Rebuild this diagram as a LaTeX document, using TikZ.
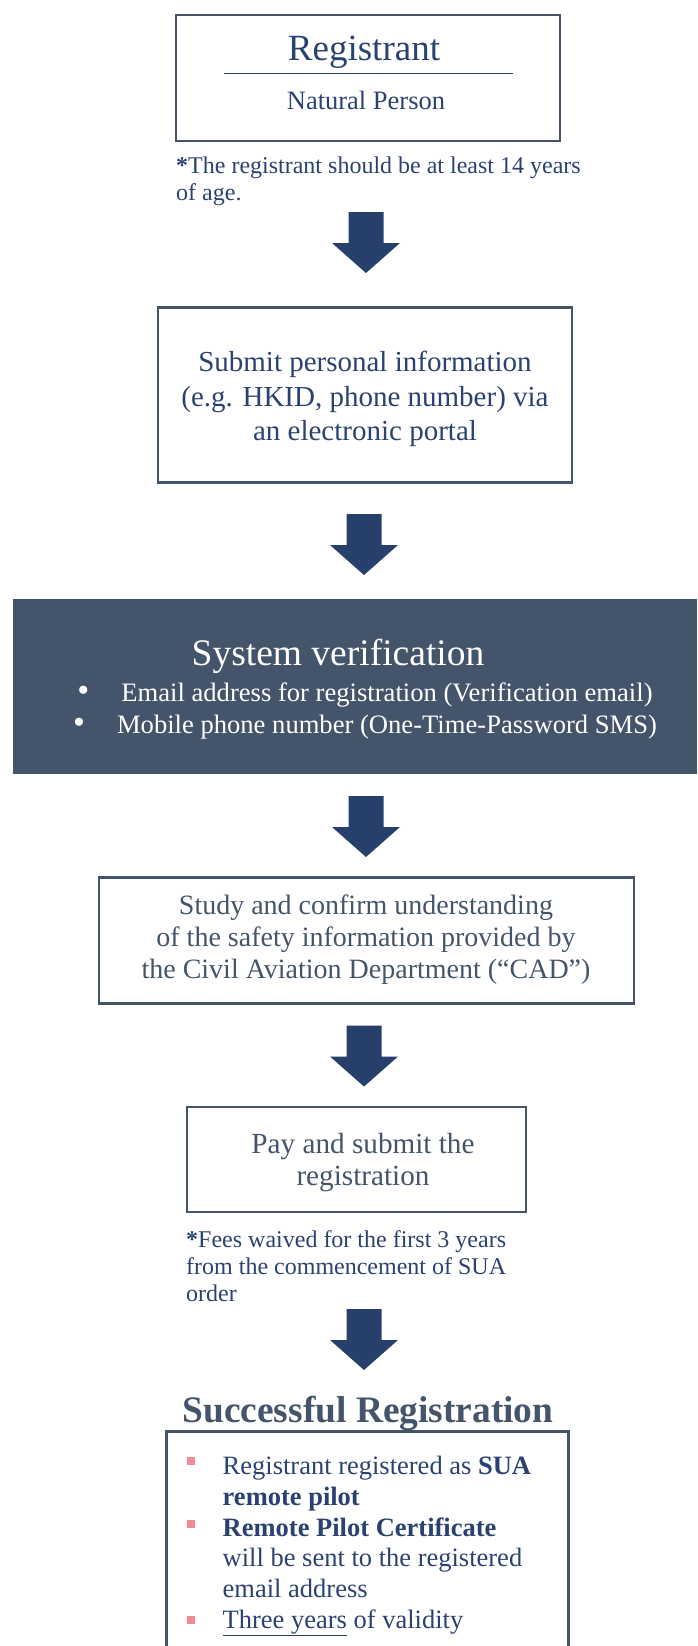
\documentclass[tikz,border=0pt]{standalone}
\usepackage{fontspec}
\setmainfont{Liberation Serif}
\definecolor{navy}{HTML}{2A4271}
\definecolor{slate}{HTML}{44546A}
\definecolor{arrowblue}{HTML}{273F6B}
\definecolor{pinkmark}{HTML}{F28A98}
\newcommand\fs[2]{\fontsize{#1}{#2}\selectfont}

\tikzset{
  box/.style={draw=slate,line width=2.5pt,inner sep=0pt},
  note/.style={navy,font=\fs{24}{27},align=left,inner sep=0pt},
  sqbullet/.style={fill=pinkmark,minimum size=8pt,inner sep=0pt},
  blockarrow/.pic={\fill[arrowblue] (-17.5,0) -- (17.5,0) -- (17.5,31) -- (34,31)
    -- (0,61) -- (-34,31) -- (-17.5,31) -- cycle;}
}

\begin{document}
\begin{tikzpicture}[x=1pt,y=-1pt]
\useasboundingbox (0,0) rectangle (697,1646);

% registrant
\node[box,minimum width=384pt,minimum height=126pt] (reg) at (368,78) {};
\node[navy,font=\fs{37}{40},anchor=base] (regname) at (364,60) {Registrant};
\draw[navy,line width=1.2pt] (224,73.5) -- (513,73.5);
\node[navy,font=\fs{26.5}{30},anchor=base] (natural) at (366,109) {Natural Person};
\node[note,anchor=base west] (agenote) at (176,200) {\textbf{*}The registrant should be at least 14 years\\of age.};

\pic at (366,212) {blockarrow};

% personal information
\node[box,minimum width=414pt,minimum height=175pt] (submit) at (365,395) {};
\node[navy,font=\fs{29}{34.5},align=center] (submittext) at (365,399)
  {Submit personal information\\(e.g. HKID, phone number) via\\an electronic portal};

\pic at (364,514) {blockarrow};

% system verification
\node[fill=slate,minimum width=684pt,minimum height=175pt,inner sep=0pt] (verify) at (355.3,686.5) {};
\node[white,font=\fs{37.5}{40}] (vtitle) at (338,656) {System verification};
\node[white,font=\fs{26.6}{32},align=center] (vlist) at (365,711)
  {\makebox[44pt][l]{\fs{34}{32}\textbullet}Email address for registration (Verification email)\\
   \makebox[44pt][l]{\fs{34}{32}\textbullet}Mobile phone number (One-Time-Password SMS)};

\pic at (366,796) {blockarrow};

% safety information
\node[box,minimum width=535pt,minimum height=126pt] (study) at (366.3,940.5) {};
\node[slate,font=\fs{28}{32},align=center] (studytext) at (366,940)
  {Study and confirm understanding\\of the safety information provided by\\the Civil Aviation Department (“CAD”)};

\pic at (364,1025.5) {blockarrow};

% payment
\node[box,minimum width=339pt,minimum height=105pt] (pay) at (356.5,1159.5) {};
\node[slate,font=\fs{29.2}{32.6},align=center] (paytext) at (363,1162.5) {Pay and submit the\\registration};
\node[note,anchor=base west] (feenote) at (186,1301) {\textbf{*}Fees waived for the first 3 years\\from the commencement of SUA\\order};

\pic at (364,1309) {blockarrow};

% result
\node[slate,font=\bfseries\fs{37.4}{40}] (successhead) at (368,1413) {Successful Registration};
\node[box,minimum width=402pt,minimum height=240pt,anchor=north west] (success) at (165,1430) {};
\node[navy,font=\fs{26.5}{30.7},align=left,anchor=north west,inner sep=0pt] (slist) at (222.5,1456)
  {Registrant registered as \textbf{SUA}\\\textbf{remote pilot}\\\textbf{Remote Pilot Certificate}\\
   will be sent to the registered\\email address\\\underline{Three years} of validity};
\foreach \y in {1461,1524,1620}
  \node[sqbullet] (bul\y) at (191,\y) {};
\end{tikzpicture}
\end{document}
